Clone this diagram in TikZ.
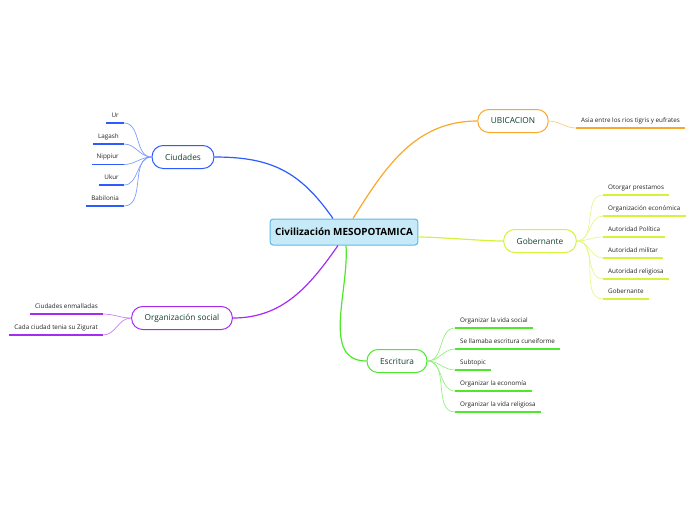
\documentclass[tikz,border=0pt]{standalone}
\usepackage{fontspec}
\setmainfont{Open Sans}
\usepackage{xcolor}
\usetikzlibrary{positioning}
\definecolor{RootFill}{HTML}{C7EAF9}
\definecolor{RootBorder}{HTML}{5DB9E8}
\definecolor{TopicText}{HTML}{123F30}
\definecolor{LeafText}{HTML}{222222}
\definecolor{CiuBlue}{HTML}{2C5CFF}
\definecolor{UbiOrange}{HTML}{F9A82B}
\definecolor{GobYellow}{HTML}{D6F23C}
\definecolor{EscGreen}{HTML}{4DE82B}
\definecolor{OrgPurple}{HTML}{A52CF0}

\begin{document}
\begin{tikzpicture}[x=1pt,y=-1pt,
  root/.style={draw=RootBorder,fill=RootFill,line width=1pt,
    rounded corners=3pt,minimum height=26pt,inner xsep=5pt,
    font=\bfseries\fontsize{9.9}{11}\selectfont,text=black},
  topic/.style={draw=#1,fill=white,line width=1pt,
    rounded corners=11pt,minimum height=23pt,inner xsep=13pt,
    font=\fontsize{8.3}{9}\selectfont,text=TopicText},
  leaf/.style={inner xsep=5pt,inner ysep=0.5pt,text depth=5pt,
    font=\fontsize{6.3}{7}\selectfont,text=LeafText},
  uline/.style={draw=#1,line width=1.6pt},
  main/.style={draw=#1,line width=1.2pt},
  sub/.style={draw=#1!60,line width=0.7pt}
]
\useasboundingbox (0,0) rectangle (696,520);

% central topic and main branches
\node[root] (root) at (344,232) {Civilización MESOPOTAMICA};
\node[topic=CiuBlue]   (ciu) at (183,157) {Ciudades};
\node[topic=UbiOrange] (ubi) at (513,121) {UBICACION};
\node[topic=GobYellow] (gob) at (540,241) {Gobernante};
\node[topic=EscGreen]  (esc) at (397,361) {Escritura};
\node[topic=OrgPurple] (org) at (182,318) {Organización social};

\draw[main=CiuBlue]   ([xshift=-11pt]root.north) to[out=125,in=0,looseness=1.1] (ciu.east);
\draw[main=UbiOrange] ([xshift=9pt]root.north)   to[out=58,in=180,looseness=1.0] (ubi.west);
\draw[main=GobYellow] ([yshift=-5pt]root.east)   to[out=0,in=180,looseness=0.6] (gob.west);
\draw[main=EscGreen]  ([xshift=2pt]root.south)   to[out=-86,in=180,looseness=1.0] (esc.west);
\draw[main=OrgPurple] ([xshift=-6pt]root.south)  to[out=-125,in=0,looseness=1.0] (org.east);

% Ciudades
\foreach \name/\y/\txt in {ur/123/Ur,lag/144/Lagash,nip/164.5/Nippiur,
    uku/185/Ukur,bab/206/Babilonia}{
  \node[leaf,anchor=south east] (\name) at (124,\y) {\txt};
  \draw[uline=CiuBlue] (\name.south west) -- (\name.south east);
  \draw[sub=CiuBlue] (ciu.west) to[out=180,in=0] (\name.south east);
}

% UBICACION
\node[leaf,anchor=south west] (asia) at (576,128) {Asia entre los rios tigris y eufrates};
\draw[uline=UbiOrange] (asia.south west) -- (asia.south east);
\draw[sub=UbiOrange] (ubi.east) to[out=0,in=180] (asia.south west);

% Gobernante
\foreach \name/\y/\txt in {ot/195/Otorgar prestamos,oe/216/Organización económica,
    ap/237/Autoridad Política,am/258/Autoridad militar,
    ar/279/Autoridad religiosa,gb/299/Gobernante}{
  \node[leaf,anchor=south west] (\name) at (603,\y) {\txt};
  \draw[uline=GobYellow] (\name.south west) -- (\name.south east);
  \draw[sub=GobYellow] (gob.east) to[out=0,in=180] (\name.south west);
}

% Escritura
\foreach \name/\y/\txt in {vs/328/Organizar la vida social,
    cu/349/Se llamaba escritura cuneiforme,sb/370/Subtopic,
    ec/391/Organizar la economía,vr/412/Organizar la vida religiosa}{
  \node[leaf,anchor=south west] (\name) at (455,\y) {\txt};
  \draw[uline=EscGreen] (\name.south west) -- (\name.south east);
  \draw[sub=EscGreen] (esc.east) to[out=0,in=180] (\name.south west);
}

% Organización social
\foreach \name/\y/\txt in {enm/314/Ciudades enmalladas,zig/335/Cada ciudad tenia su Zigurat}{
  \node[leaf,anchor=south east] (\name) at (103,\y) {\txt};
  \draw[uline=OrgPurple] (\name.south west) -- (\name.south east);
  \draw[sub=OrgPurple] (org.west) to[out=180,in=0] (\name.south east);
}
\end{tikzpicture}
\end{document}
